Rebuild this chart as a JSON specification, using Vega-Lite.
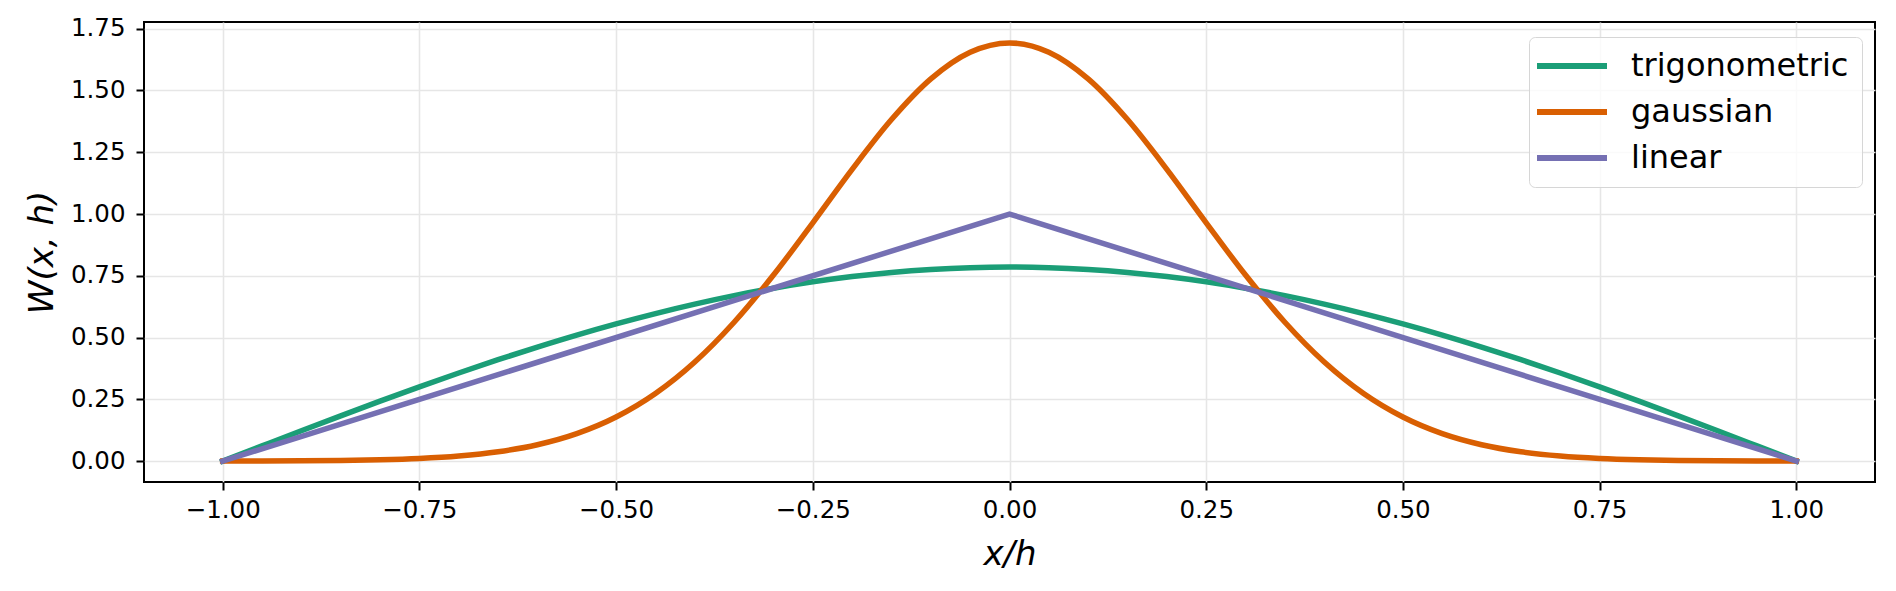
{
  "$schema": "https://vega.github.io/schema/vega-lite/v6.json",
  "description": "Smoothing kernels W(x,h): trigonometric, gaussian and linear.",
  "width": 1731,
  "height": 460,
  "autosize": {"type": "none"},
  "padding": {"left": 144, "top": 22, "right": 21, "bottom": 109},
  "background": "white",
  "config": {
    "font": "DejaVu Sans",
    "view": {"stroke": "black", "strokeWidth": 2},
    "axis": {
      "domain": false,
      "grid": true,
      "gridColor": "#e6e6e6",
      "gridWidth": 1.6,
      "ticks": true,
      "tickColor": "black",
      "tickWidth": 2,
      "tickSize": 8,
      "labelFont": "DejaVu Sans",
      "labelFontSize": 24.5,
      "labelColor": "black",
      "titleFont": "DejaVu Sans",
      "titleFontSize": 34,
      "titleFontStyle": "italic",
      "titleFontWeight": "normal",
      "titleColor": "black"
    }
  },
  "data": {
    "values": [
      {"x": -1.00, "W": 0.0000, "kernel": "trigonometric"},
      {"x": -0.95, "W": 0.0616, "kernel": "trigonometric"},
      {"x": -0.90, "W": 0.1229, "kernel": "trigonometric"},
      {"x": -0.85, "W": 0.1833, "kernel": "trigonometric"},
      {"x": -0.80, "W": 0.2427, "kernel": "trigonometric"},
      {"x": -0.75, "W": 0.3006, "kernel": "trigonometric"},
      {"x": -0.70, "W": 0.3566, "kernel": "trigonometric"},
      {"x": -0.65, "W": 0.4104, "kernel": "trigonometric"},
      {"x": -0.60, "W": 0.4616, "kernel": "trigonometric"},
      {"x": -0.55, "W": 0.5101, "kernel": "trigonometric"},
      {"x": -0.50, "W": 0.5554, "kernel": "trigonometric"},
      {"x": -0.45, "W": 0.5972, "kernel": "trigonometric"},
      {"x": -0.40, "W": 0.6354, "kernel": "trigonometric"},
      {"x": -0.35, "W": 0.6697, "kernel": "trigonometric"},
      {"x": -0.30, "W": 0.6998, "kernel": "trigonometric"},
      {"x": -0.25, "W": 0.7256, "kernel": "trigonometric"},
      {"x": -0.20, "W": 0.7470, "kernel": "trigonometric"},
      {"x": -0.15, "W": 0.7637, "kernel": "trigonometric"},
      {"x": -0.10, "W": 0.7757, "kernel": "trigonometric"},
      {"x": -0.05, "W": 0.7830, "kernel": "trigonometric"},
      {"x": 0.00, "W": 0.7854, "kernel": "trigonometric"},
      {"x": 0.05, "W": 0.7830, "kernel": "trigonometric"},
      {"x": 0.10, "W": 0.7757, "kernel": "trigonometric"},
      {"x": 0.15, "W": 0.7637, "kernel": "trigonometric"},
      {"x": 0.20, "W": 0.7470, "kernel": "trigonometric"},
      {"x": 0.25, "W": 0.7256, "kernel": "trigonometric"},
      {"x": 0.30, "W": 0.6998, "kernel": "trigonometric"},
      {"x": 0.35, "W": 0.6697, "kernel": "trigonometric"},
      {"x": 0.40, "W": 0.6354, "kernel": "trigonometric"},
      {"x": 0.45, "W": 0.5972, "kernel": "trigonometric"},
      {"x": 0.50, "W": 0.5554, "kernel": "trigonometric"},
      {"x": 0.55, "W": 0.5101, "kernel": "trigonometric"},
      {"x": 0.60, "W": 0.4616, "kernel": "trigonometric"},
      {"x": 0.65, "W": 0.4104, "kernel": "trigonometric"},
      {"x": 0.70, "W": 0.3566, "kernel": "trigonometric"},
      {"x": 0.75, "W": 0.3006, "kernel": "trigonometric"},
      {"x": 0.80, "W": 0.2427, "kernel": "trigonometric"},
      {"x": 0.85, "W": 0.1833, "kernel": "trigonometric"},
      {"x": 0.90, "W": 0.1229, "kernel": "trigonometric"},
      {"x": 0.95, "W": 0.0616, "kernel": "trigonometric"},
      {"x": 1.00, "W": 0.0000, "kernel": "trigonometric"},
      {"x": -1.00, "W": 0.0002, "kernel": "gaussian"},
      {"x": -0.95, "W": 0.0005, "kernel": "gaussian"},
      {"x": -0.90, "W": 0.0012, "kernel": "gaussian"},
      {"x": -0.85, "W": 0.0025, "kernel": "gaussian"},
      {"x": -0.80, "W": 0.0053, "kernel": "gaussian"},
      {"x": -0.75, "W": 0.0107, "kernel": "gaussian"},
      {"x": -0.70, "W": 0.0206, "kernel": "gaussian"},
      {"x": -0.65, "W": 0.0378, "kernel": "gaussian"},
      {"x": -0.60, "W": 0.0663, "kernel": "gaussian"},
      {"x": -0.55, "W": 0.1112, "kernel": "gaussian"},
      {"x": -0.50, "W": 0.1784, "kernel": "gaussian"},
      {"x": -0.45, "W": 0.2736, "kernel": "gaussian"},
      {"x": -0.40, "W": 0.4010, "kernel": "gaussian"},
      {"x": -0.35, "W": 0.5620, "kernel": "gaussian"},
      {"x": -0.30, "W": 0.7530, "kernel": "gaussian"},
      {"x": -0.25, "W": 0.9644, "kernel": "gaussian"},
      {"x": -0.20, "W": 1.1809, "kernel": "gaussian"},
      {"x": -0.15, "W": 1.3823, "kernel": "gaussian"},
      {"x": -0.10, "W": 1.5469, "kernel": "gaussian"},
      {"x": -0.05, "W": 1.6549, "kernel": "gaussian"},
      {"x": 0.00, "W": 1.6926, "kernel": "gaussian"},
      {"x": 0.05, "W": 1.6549, "kernel": "gaussian"},
      {"x": 0.10, "W": 1.5469, "kernel": "gaussian"},
      {"x": 0.15, "W": 1.3823, "kernel": "gaussian"},
      {"x": 0.20, "W": 1.1809, "kernel": "gaussian"},
      {"x": 0.25, "W": 0.9644, "kernel": "gaussian"},
      {"x": 0.30, "W": 0.7530, "kernel": "gaussian"},
      {"x": 0.35, "W": 0.5620, "kernel": "gaussian"},
      {"x": 0.40, "W": 0.4010, "kernel": "gaussian"},
      {"x": 0.45, "W": 0.2736, "kernel": "gaussian"},
      {"x": 0.50, "W": 0.1784, "kernel": "gaussian"},
      {"x": 0.55, "W": 0.1112, "kernel": "gaussian"},
      {"x": 0.60, "W": 0.0663, "kernel": "gaussian"},
      {"x": 0.65, "W": 0.0378, "kernel": "gaussian"},
      {"x": 0.70, "W": 0.0206, "kernel": "gaussian"},
      {"x": 0.75, "W": 0.0107, "kernel": "gaussian"},
      {"x": 0.80, "W": 0.0053, "kernel": "gaussian"},
      {"x": 0.85, "W": 0.0025, "kernel": "gaussian"},
      {"x": 0.90, "W": 0.0012, "kernel": "gaussian"},
      {"x": 0.95, "W": 0.0005, "kernel": "gaussian"},
      {"x": 1.00, "W": 0.0002, "kernel": "gaussian"},
      {"x": -1.00, "W": 0.0, "kernel": "linear"},
      {"x": 0.00, "W": 1.0, "kernel": "linear"},
      {"x": 1.00, "W": 0.0, "kernel": "linear"}
    ]
  },
  "encoding": {
    "x": {
      "field": "x",
      "type": "quantitative",
      "scale": {"domain": [-1.1, 1.1], "nice": false, "zero": false},
      "axis": {
        "title": "x/h",
        "values": [-1, -0.75, -0.5, -0.25, 0, 0.25, 0.5, 0.75, 1],
        "format": ".2f",
        "labelPadding": 8,
        "titlePadding": 16
      }
    },
    "y": {
      "field": "W",
      "type": "quantitative",
      "scale": {"domain": [-0.0846, 1.7772], "nice": false, "zero": false},
      "axis": {
        "title": "W(x, h)",
        "values": [0, 0.25, 0.5, 0.75, 1, 1.25, 1.5, 1.75],
        "format": ".2f",
        "labelPadding": 11,
        "titlePadding": 11
      }
    },
    "color": {
      "field": "kernel",
      "type": "nominal",
      "scale": {
        "domain": ["trigonometric", "gaussian", "linear"],
        "range": ["#1b9e77", "#d95f02", "#7570b3"]
      },
      "legend": {
        "title": null,
        "orient": "none",
        "legendX": 1385,
        "legendY": 15,
        "fillColor": "rgba(255,255,255,0.8)",
        "strokeColor": "#d6d6d6",
        "cornerRadius": 6,
        "padding": 13,
        "rowPadding": 14,
        "symbolType": "M-3,0H7",
        "symbolSize": 196,
        "symbolStrokeWidth": 6,
        "labelFont": "DejaVu Sans",
        "labelFontSize": 32,
        "labelColor": "black",
        "labelLimit": 400,
        "labelOffset": 57
      }
    }
  },
  "layer": [
    {
      "transform": [{"filter": "datum.kernel !== 'linear'"}],
      "mark": {"type": "line", "strokeWidth": 5.5, "interpolate": "monotone", "strokeJoin": "round", "strokeCap": "square"}
    },
    {
      "transform": [{"filter": "datum.kernel === 'linear'"}],
      "mark": {"type": "line", "strokeWidth": 5.5, "strokeJoin": "round", "strokeCap": "square"}
    }
  ]
}
